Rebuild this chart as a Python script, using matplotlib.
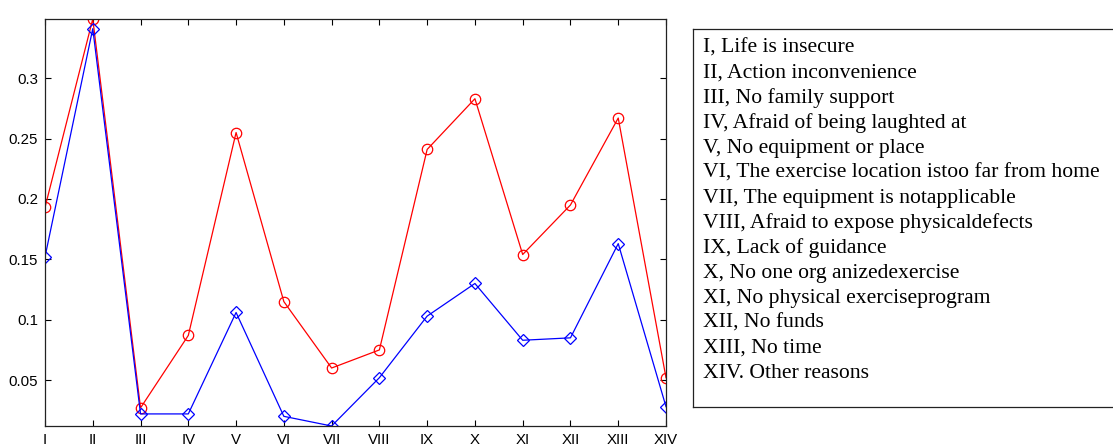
import matplotlib.pyplot as plt
from matplotlib.ticker import FormatStrFormatter

W, H = 1113, 444

categories = ['I', 'II', 'III', 'IV', 'V', 'VI', 'VII', 'VIII', 'IX', 'X', 'XI', 'XII', 'XIII', 'XIV']
red_values = [0.193, 0.349, 0.027, 0.087, 0.255, 0.115, 0.060, 0.075, 0.241, 0.283, 0.154, 0.195, 0.267, 0.052]
blue_values = [0.152, 0.341, 0.022, 0.022, 0.106, 0.020, 0.012, 0.052, 0.103, 0.130, 0.083, 0.085, 0.163, 0.028]
y_ticks = [0.05, 0.1, 0.15, 0.2, 0.25, 0.3]
legend_lines = [
    'I, Life is insecure',
    'II, Action inconvenience',
    'III, No family support',
    'IV, Afraid of being laughted at',
    'V, No equipment or place',
    'VI, The exercise location istoo far from home',
    'VII, The equipment is notapplicable',
    'VIII, Afraid to expose physicaldefects',
    'IX, Lack of guidance',
    'X, No one org anizedexercise',
    'XI, No physical exerciseprogram',
    'XII, No funds',
    'XIII, No time',
    'XIV. Other reasons',
]

plt.rcParams['font.family'] = ['Liberation Sans', 'DejaVu Sans']

fig = plt.figure(figsize=(W / 100, H / 100), dpi=100)

# main plot, placed in pixels like the original
ax = fig.add_axes([45 / W, (H - 426) / H, 621 / W, 407 / H])
x = list(range(len(categories)))

ax.plot(x, red_values, color='red', lw=0.9, marker='o', markersize=7.5,
        markerfacecolor='none', markeredgecolor='red', markeredgewidth=0.9)
ax.plot(x, blue_values, color='blue', lw=0.9, marker='D', markersize=6.3,
        markerfacecolor='none', markeredgecolor='blue', markeredgewidth=0.9)

ax.set_xlim(0, len(categories) - 1)
ax.set_ylim(min(blue_values), max(red_values))
ax.set_xticks(x)
ax.set_xticklabels(categories)
ax.set_yticks(y_ticks)
ax.yaxis.set_major_formatter(FormatStrFormatter('%g'))
ax.tick_params(direction='in', top=True, right=True, length=4.5, width=0.8,
               labelsize=10.8, pad=5, colors='black')
for s in ax.spines.values():
    s.set_linewidth(0.9)
    s.set_color('#222222')

# box holding the category descriptions (right side runs off the figure)
box = fig.add_axes([693 / W, (H - 407) / H, 430 / W, 378 / H])
box.set_xticks([])
box.set_yticks([])
for s in box.spines.values():
    s.set_linewidth(0.9)
    s.set_color('#222222')

for i, line in enumerate(legend_lines):
    y_px = 53 + 25 * i
    fig.text(703 / W, (H - y_px) / H, line, family=['Liberation Serif', 'DejaVu Serif'],
             fontsize=15.6, va='baseline', ha='left', color='black')

fig.savefig('out.png', dpi=100)
